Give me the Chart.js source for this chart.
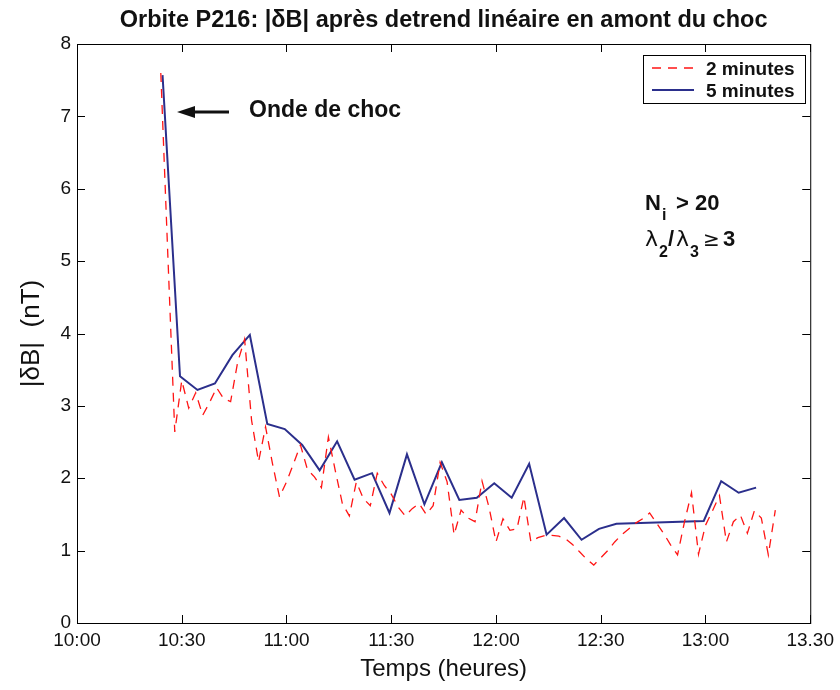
<!DOCTYPE html>
<html>
<head>
<meta charset="utf-8">
<script src="https://cdn.jsdelivr.net/npm/chart.js@4.4.0/dist/chart.umd.min.js"></script>
<style>
  body { margin: 0; background: #fff; }
  #chart { display: block; }
</style>
</head>
<body>
<canvas id="chart" width="840" height="690"></canvas>
<script>
// minutes after 10:00
const xTickLabels = ['10:00', '10:30', '11:00', '11:30', '12:00', '12:30', '13:00', '13.30'];
const chartTitle = 'Orbite P216: |δB| après detrend linéaire en amont du choc';

// 2 minutes series
const redTimes = [24, 26, 28, 30, 32, 34, 36, 38, 40, 42, 44, 46, 48, 50, 52, 54, 56, 58, 60, 62,
    64, 66, 68, 70, 72, 74, 76, 78, 80, 82, 84, 86, 88, 90, 92, 94, 96, 98, 100, 102,
    104, 106, 108, 110, 112, 114, 116, 118, 120, 122, 124, 126, 128, 130, 132, 134, 136, 138, 140, 142,
    144, 146, 148, 150, 152, 154, 156, 158, 160, 162, 164, 166, 168, 170, 172, 174, 176, 178, 180, 182,
    184, 186, 188, 190, 192, 194, 196, 198, 200];
const redValues = [7.60, 5.10, 2.64, 3.35, 2.97, 3.18, 2.87, 3.05, 3.25, 3.10, 3.06, 3.60, 3.92, 2.80, 2.23, 2.71, 2.20, 1.74, 1.95, 2.20,
    2.46, 2.12, 2.02, 1.87, 2.57, 2.10, 1.65, 1.48, 1.95, 1.72, 1.62, 2.07, 1.90, 1.78, 1.60, 1.48, 1.58, 1.65, 1.50, 1.62,
    2.22, 1.95, 1.22, 1.56, 1.45, 1.40, 1.96, 1.60, 1.12, 1.44, 1.28, 1.30, 1.74, 1.12, 1.18, 1.21, 1.21, 1.20, 1.16, 1.08,
    0.98, 0.88, 0.80, 0.90, 1.00, 1.12, 1.22, 1.30, 1.38, 1.44, 1.52, 1.38, 1.24, 1.08, 0.94, 1.40, 1.80, 0.95, 1.35, 1.55,
    1.76, 1.12, 1.40, 1.49, 1.24, 1.55, 1.45, 0.94, 1.56];

// 5 minutes series (no data between 12:35 and 12:59)
const blueTimes = [24.5, 29.5, 34.5, 39.5, 44.5, 49.5, 54.5, 59.5, 64.5, 69.5, 74.5, 79.5, 84.5, 89.5, 94.5, 99.5,
    104.5, 109.5, 114.5, 119.5, 124.5, 129.5, 134.5, 139.5, 144.5, 149.5, 154.5, 179.5, 184.5, 189.5, 194.5];
const blueValues = [7.57, 3.41, 3.22, 3.31, 3.70, 3.98, 2.75, 2.68, 2.46, 2.11, 2.51, 1.98, 2.07, 1.52, 2.33, 1.64,
    2.22, 1.70, 1.73, 1.93, 1.73, 2.20, 1.22, 1.45, 1.15, 1.30, 1.37, 1.41, 1.96, 1.80, 1.87];

const RED = 'rgb(255, 20, 20)';
const BLUE = '#2b2f8c';
const FONT = '"Liberation Sans", Arial, Helvetica, sans-serif';

function toPoints(xs, ys) {
    return xs.map((x, i) => ({ x: x, y: ys[i] }));
}

// title, frame, inward ticks, legend and annotations (matlab style)
const decorations = {
    id: 'decorations',
    afterDatasetsDraw(chart) {
        const ctx = chart.ctx;
        const a = chart.chartArea;
        const xs = chart.scales.x, ys = chart.scales.y;
        ctx.save();

        // title centred over the axes box
        ctx.fillStyle = '#111';
        ctx.textAlign = 'center';
        ctx.textBaseline = 'alphabetic';
        ctx.font = 'bold 23.5px ' + FONT;
        ctx.fillText(chartTitle, (a.left + a.right) / 2, 27);
        ctx.textAlign = 'left';

        ctx.strokeStyle = '#000';
        ctx.lineWidth = 1;
        ctx.strokeRect(a.left + 0.5, a.top + 0.5, a.right - a.left, a.bottom - a.top);
        const tl = 8;
        ctx.beginPath();
        xs.ticks.forEach(t => {
            const px = Math.round(xs.getPixelForValue(t.value)) + 0.5;
            ctx.moveTo(px, a.bottom); ctx.lineTo(px, a.bottom - tl);
            ctx.moveTo(px, a.top); ctx.lineTo(px, a.top + tl);
        });
        ys.ticks.forEach(t => {
            const py = Math.round(ys.getPixelForValue(t.value)) + 0.5;
            ctx.moveTo(a.left, py); ctx.lineTo(a.left + tl, py);
            ctx.moveTo(a.right, py); ctx.lineTo(a.right - tl, py);
        });
        ctx.stroke();

        // legend box
        const lx = 643, ly = 55, lw = 162, lh = 48;
        ctx.fillStyle = '#fff';
        ctx.fillRect(lx, ly, lw, lh);
        ctx.strokeRect(lx + 0.5, ly + 0.5, lw, lh);
        ctx.lineWidth = 1.3;
        ctx.strokeStyle = RED;
        ctx.setLineDash([9, 7]);
        ctx.beginPath(); ctx.moveTo(652, 68); ctx.lineTo(694, 68); ctx.stroke();
        ctx.setLineDash([]);
        ctx.lineWidth = 2;
        ctx.strokeStyle = BLUE;
        ctx.beginPath(); ctx.moveTo(652, 90); ctx.lineTo(694, 90); ctx.stroke();
        ctx.fillStyle = '#111';
        ctx.font = 'bold 19px ' + FONT;
        ctx.fillText('2 minutes', 706, 75);
        ctx.fillText('5 minutes', 706, 97);

        // arrow to the shock
        ctx.strokeStyle = '#111';
        ctx.lineWidth = 3;
        ctx.beginPath(); ctx.moveTo(229, 112); ctx.lineTo(190, 112); ctx.stroke();
        ctx.beginPath();
        ctx.moveTo(177, 112); ctx.lineTo(195, 106); ctx.lineTo(195, 118); ctx.closePath();
        ctx.fill();
        ctx.font = 'bold 23px ' + FONT;
        ctx.fillText('Onde de choc', 249, 117);

        // criteria
        ctx.font = 'bold 22px ' + FONT;
        ctx.fillText('N', 645, 210);
        ctx.font = 'bold 16px ' + FONT;
        ctx.fillText('i', 662, 220);
        ctx.font = 'bold 22px ' + FONT;
        ctx.fillText('> 20', 676, 210);

        ctx.font = '22px "DejaVu Sans", sans-serif';
        ctx.fillText('λ', 645, 246);
        ctx.font = 'bold 16px ' + FONT;
        ctx.fillText('2', 659, 257);
        ctx.font = 'bold 22px ' + FONT;
        ctx.fillText('/', 668, 246);
        ctx.font = '22px "DejaVu Sans", sans-serif';
        ctx.fillText('λ', 676, 246);
        ctx.font = 'bold 16px ' + FONT;
        ctx.fillText('3', 690, 257);
        ctx.font = '20px "DejaVu Sans", sans-serif';
        ctx.fillText('≥', 703, 246);
        ctx.font = 'bold 22px ' + FONT;
        ctx.fillText('3', 723, 246);
        ctx.restore();
    }
};

new Chart(document.getElementById('chart'), {
    type: 'scatter',
    data: {
        datasets: [{
            label: '2 minutes',
            data: toPoints(redTimes, redValues),
            showLine: true,
            borderColor: RED,
            borderWidth: 1.3,
            borderDash: [9, 7],
            pointRadius: 0,
            tension: 0
        }, {
            label: '5 minutes',
            data: toPoints(blueTimes, blueValues),
            showLine: true,
            borderColor: BLUE,
            borderWidth: 2,
            pointRadius: 0,
            tension: 0
        }]
    },
    plugins: [decorations],
    options: {
        responsive: false,
        animation: false,
        devicePixelRatio: 1,
        layout: {
            autoPadding: false,
            padding: { left: 0, right: 28, top: 44, bottom: 0 }
        },
        plugins: {
            legend: { display: false },
            tooltip: { enabled: false },
            title: { display: false }
        },
        scales: {
            x: {
                type: 'linear',
                min: 0,
                max: 210,
                afterFit: s => { s.height = 67; },
                grid: { display: false, drawTicks: false },
                border: { display: false },
                ticks: {
                    stepSize: 30,
                    padding: 6,
                    color: '#111',
                    maxRotation: 0,
                    font: { family: FONT, size: 19 },
                    callback: v => xTickLabels[v / 30]
                },
                title: {
                    display: true,
                    text: 'Temps (heures)',
                    color: '#111',
                    font: { family: FONT, size: 24 },
                    padding: { top: 0, bottom: 6 }
                }
            },
            y: {
                min: 0,
                max: 8,
                afterFit: s => { s.width = 77; },
                grid: { display: false, drawTicks: false },
                border: { display: false },
                ticks: {
                    stepSize: 1,
                    padding: 6,
                    color: '#111',
                    font: { family: FONT, size: 19 }
                },
                title: {
                    display: true,
                    text: '|δB|  (nT)',
                    color: '#111',
                    font: { family: FONT, size: 26 },
                    padding: { top: 16, bottom: 0 }
                }
            }
        }
    }
});
</script>
</body>
</html>
